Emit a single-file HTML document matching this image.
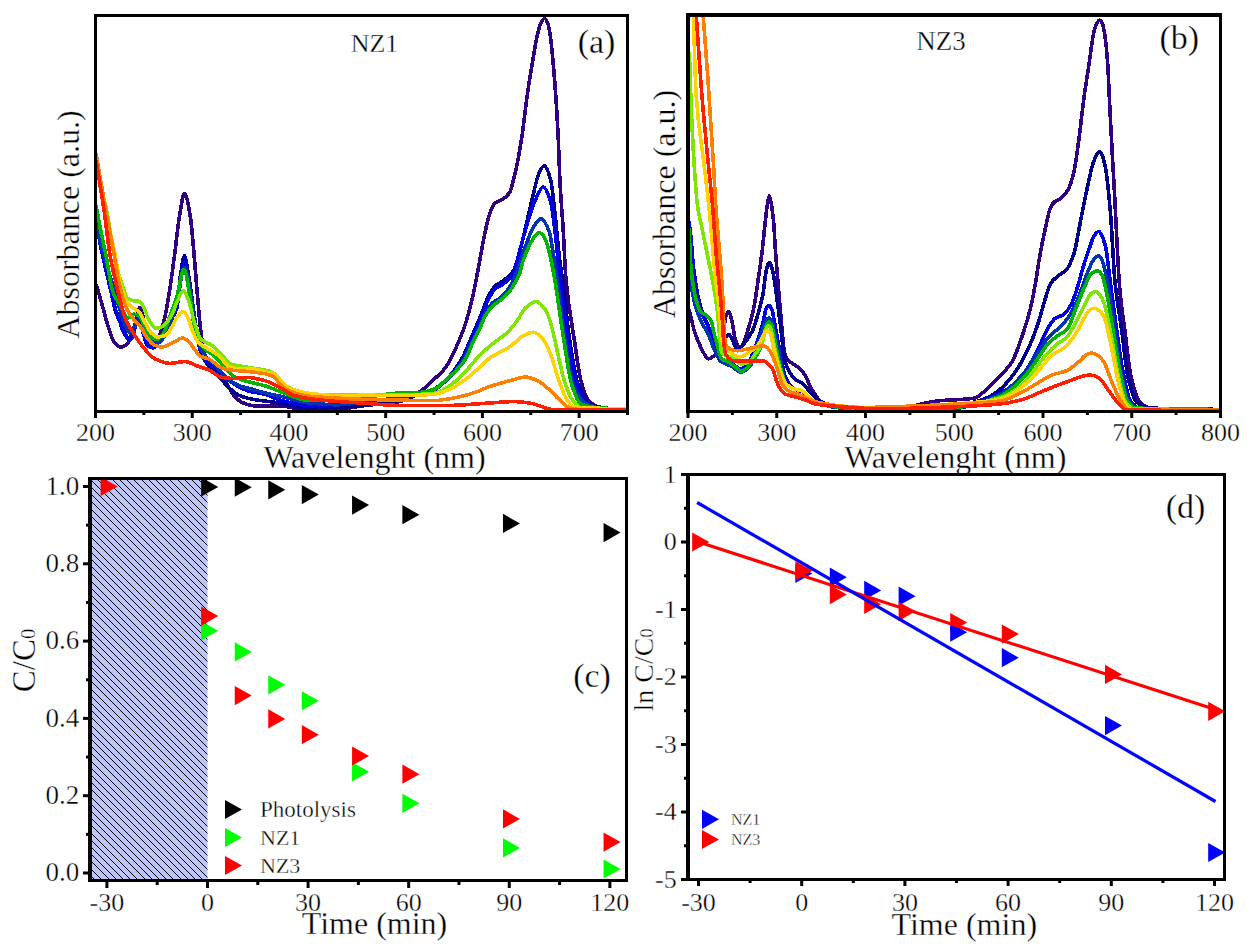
<!DOCTYPE html>
<html><head><meta charset="utf-8"><style>html,body{margin:0;padding:0;background:#fff;width:1247px;height:952px;overflow:hidden}svg{display:block}</style></head>
<body><svg width="1247" height="952" viewBox="0 0 1247 952" font-family="&quot;Liberation Serif&quot;, serif" fill="#000"><style>text{stroke:#fff;stroke-width:0.35px}</style><defs><pattern id="hatch" patternUnits="userSpaceOnUse" x="0" y="0" width="36" height="36"><rect width="36" height="36" fill="#bbc5fa"/><g fill="#000"><rect x="0" y="0" width="1" height="1"/><rect x="1" y="1" width="1" height="1"/><rect x="2" y="2" width="1" height="1"/><rect x="3" y="3" width="1" height="1"/><rect x="4" y="4" width="1" height="1"/><rect x="5" y="5" width="1" height="1"/><rect x="6" y="6" width="1" height="1"/><rect x="7" y="7" width="1" height="1"/><rect x="8" y="8" width="1" height="1"/><rect x="9" y="9" width="1" height="1"/><rect x="10" y="10" width="1" height="1"/><rect x="11" y="11" width="1" height="1"/><rect x="12" y="12" width="1" height="1"/><rect x="13" y="13" width="1" height="1"/><rect x="14" y="14" width="1" height="1"/><rect x="15" y="15" width="1" height="1"/><rect x="16" y="16" width="1" height="1"/><rect x="17" y="17" width="1" height="1"/><rect x="18" y="18" width="1" height="1"/><rect x="19" y="19" width="1" height="1"/><rect x="20" y="20" width="1" height="1"/><rect x="21" y="21" width="1" height="1"/><rect x="22" y="22" width="1" height="1"/><rect x="23" y="23" width="1" height="1"/><rect x="24" y="24" width="1" height="1"/><rect x="25" y="25" width="1" height="1"/><rect x="26" y="26" width="1" height="1"/><rect x="27" y="27" width="1" height="1"/><rect x="28" y="28" width="1" height="1"/><rect x="29" y="29" width="1" height="1"/><rect x="30" y="30" width="1" height="1"/><rect x="31" y="31" width="1" height="1"/><rect x="32" y="32" width="1" height="1"/><rect x="33" y="33" width="1" height="1"/><rect x="34" y="34" width="1" height="1"/><rect x="35" y="35" width="1" height="1"/><rect x="0" y="7" width="1" height="1"/><rect x="1" y="8" width="1" height="1"/><rect x="2" y="9" width="1" height="1"/><rect x="3" y="10" width="1" height="1"/><rect x="4" y="11" width="1" height="1"/><rect x="5" y="12" width="1" height="1"/><rect x="6" y="13" width="1" height="1"/><rect x="7" y="14" width="1" height="1"/><rect x="8" y="15" width="1" height="1"/><rect x="9" y="16" width="1" height="1"/><rect x="10" y="17" width="1" height="1"/><rect x="11" y="18" width="1" height="1"/><rect x="12" y="19" width="1" height="1"/><rect x="13" y="20" width="1" height="1"/><rect x="14" y="21" width="1" height="1"/><rect x="15" y="22" width="1" height="1"/><rect x="16" y="23" width="1" height="1"/><rect x="17" y="24" width="1" height="1"/><rect x="18" y="25" width="1" height="1"/><rect x="19" y="26" width="1" height="1"/><rect x="20" y="27" width="1" height="1"/><rect x="21" y="28" width="1" height="1"/><rect x="22" y="29" width="1" height="1"/><rect x="23" y="30" width="1" height="1"/><rect x="24" y="31" width="1" height="1"/><rect x="25" y="32" width="1" height="1"/><rect x="26" y="33" width="1" height="1"/><rect x="27" y="34" width="1" height="1"/><rect x="28" y="35" width="1" height="1"/><rect x="29" y="0" width="1" height="1"/><rect x="30" y="1" width="1" height="1"/><rect x="31" y="2" width="1" height="1"/><rect x="32" y="3" width="1" height="1"/><rect x="33" y="4" width="1" height="1"/><rect x="34" y="5" width="1" height="1"/><rect x="35" y="6" width="1" height="1"/><rect x="0" y="14" width="1" height="1"/><rect x="1" y="15" width="1" height="1"/><rect x="2" y="16" width="1" height="1"/><rect x="3" y="17" width="1" height="1"/><rect x="4" y="18" width="1" height="1"/><rect x="5" y="19" width="1" height="1"/><rect x="6" y="20" width="1" height="1"/><rect x="7" y="21" width="1" height="1"/><rect x="8" y="22" width="1" height="1"/><rect x="9" y="23" width="1" height="1"/><rect x="10" y="24" width="1" height="1"/><rect x="11" y="25" width="1" height="1"/><rect x="12" y="26" width="1" height="1"/><rect x="13" y="27" width="1" height="1"/><rect x="14" y="28" width="1" height="1"/><rect x="15" y="29" width="1" height="1"/><rect x="16" y="30" width="1" height="1"/><rect x="17" y="31" width="1" height="1"/><rect x="18" y="32" width="1" height="1"/><rect x="19" y="33" width="1" height="1"/><rect x="20" y="34" width="1" height="1"/><rect x="21" y="35" width="1" height="1"/><rect x="22" y="0" width="1" height="1"/><rect x="23" y="1" width="1" height="1"/><rect x="24" y="2" width="1" height="1"/><rect x="25" y="3" width="1" height="1"/><rect x="26" y="4" width="1" height="1"/><rect x="27" y="5" width="1" height="1"/><rect x="28" y="6" width="1" height="1"/><rect x="29" y="7" width="1" height="1"/><rect x="30" y="8" width="1" height="1"/><rect x="31" y="9" width="1" height="1"/><rect x="32" y="10" width="1" height="1"/><rect x="33" y="11" width="1" height="1"/><rect x="34" y="12" width="1" height="1"/><rect x="35" y="13" width="1" height="1"/><rect x="0" y="22" width="1" height="1"/><rect x="1" y="23" width="1" height="1"/><rect x="2" y="24" width="1" height="1"/><rect x="3" y="25" width="1" height="1"/><rect x="4" y="26" width="1" height="1"/><rect x="5" y="27" width="1" height="1"/><rect x="6" y="28" width="1" height="1"/><rect x="7" y="29" width="1" height="1"/><rect x="8" y="30" width="1" height="1"/><rect x="9" y="31" width="1" height="1"/><rect x="10" y="32" width="1" height="1"/><rect x="11" y="33" width="1" height="1"/><rect x="12" y="34" width="1" height="1"/><rect x="13" y="35" width="1" height="1"/><rect x="14" y="0" width="1" height="1"/><rect x="15" y="1" width="1" height="1"/><rect x="16" y="2" width="1" height="1"/><rect x="17" y="3" width="1" height="1"/><rect x="18" y="4" width="1" height="1"/><rect x="19" y="5" width="1" height="1"/><rect x="20" y="6" width="1" height="1"/><rect x="21" y="7" width="1" height="1"/><rect x="22" y="8" width="1" height="1"/><rect x="23" y="9" width="1" height="1"/><rect x="24" y="10" width="1" height="1"/><rect x="25" y="11" width="1" height="1"/><rect x="26" y="12" width="1" height="1"/><rect x="27" y="13" width="1" height="1"/><rect x="28" y="14" width="1" height="1"/><rect x="29" y="15" width="1" height="1"/><rect x="30" y="16" width="1" height="1"/><rect x="31" y="17" width="1" height="1"/><rect x="32" y="18" width="1" height="1"/><rect x="33" y="19" width="1" height="1"/><rect x="34" y="20" width="1" height="1"/><rect x="35" y="21" width="1" height="1"/><rect x="0" y="29" width="1" height="1"/><rect x="1" y="30" width="1" height="1"/><rect x="2" y="31" width="1" height="1"/><rect x="3" y="32" width="1" height="1"/><rect x="4" y="33" width="1" height="1"/><rect x="5" y="34" width="1" height="1"/><rect x="6" y="35" width="1" height="1"/><rect x="7" y="0" width="1" height="1"/><rect x="8" y="1" width="1" height="1"/><rect x="9" y="2" width="1" height="1"/><rect x="10" y="3" width="1" height="1"/><rect x="11" y="4" width="1" height="1"/><rect x="12" y="5" width="1" height="1"/><rect x="13" y="6" width="1" height="1"/><rect x="14" y="7" width="1" height="1"/><rect x="15" y="8" width="1" height="1"/><rect x="16" y="9" width="1" height="1"/><rect x="17" y="10" width="1" height="1"/><rect x="18" y="11" width="1" height="1"/><rect x="19" y="12" width="1" height="1"/><rect x="20" y="13" width="1" height="1"/><rect x="21" y="14" width="1" height="1"/><rect x="22" y="15" width="1" height="1"/><rect x="23" y="16" width="1" height="1"/><rect x="24" y="17" width="1" height="1"/><rect x="25" y="18" width="1" height="1"/><rect x="26" y="19" width="1" height="1"/><rect x="27" y="20" width="1" height="1"/><rect x="28" y="21" width="1" height="1"/><rect x="29" y="22" width="1" height="1"/><rect x="30" y="23" width="1" height="1"/><rect x="31" y="24" width="1" height="1"/><rect x="32" y="25" width="1" height="1"/><rect x="33" y="26" width="1" height="1"/><rect x="34" y="27" width="1" height="1"/><rect x="35" y="28" width="1" height="1"/></g></pattern><clipPath id="clipA"><rect x="97" y="17" width="529" height="393"/></clipPath><clipPath id="clipB"><rect x="690" y="16" width="529" height="394"/></clipPath><clipPath id="clipC"><rect x="92" y="480" width="533" height="399"/></clipPath><clipPath id="clipD"><rect x="690" y="476" width="533" height="402"/></clipPath></defs><g clip-path="url(#clipA)"><path d="M96.00,284.00C97.87,290.30 99.73,296.40 101.60,302.90C103.70,310.21 105.80,319.25 107.90,325.60C110.00,331.95 112.10,339.42 114.20,342.00C116.37,344.66 118.53,347.20 120.70,347.20C123.03,347.20 125.37,345.47 127.70,343.30C129.47,341.66 131.23,335.49 133.00,330.60C134.40,326.72 135.80,322.14 137.20,317.00C137.97,314.18 138.73,307.50 139.50,307.50C140.33,307.50 141.17,309.76 142.00,312.00C143.17,315.14 144.33,328.77 145.50,333.00C147.23,339.29 148.97,346.00 150.70,346.00C152.83,346.00 154.97,343.43 157.10,340.70C159.50,337.63 161.90,328.64 164.30,319.30C166.07,312.43 167.83,301.64 169.60,290.70C171.40,279.55 173.20,265.08 175.00,251.40C176.50,240.00 178.00,224.31 179.50,215.70C181.17,206.14 182.83,193.40 184.50,193.40C186.40,193.40 188.30,204.68 190.20,215.70C191.40,222.66 192.60,238.31 193.80,251.40C194.87,263.03 195.93,277.79 197.00,290.00C198.23,304.12 199.47,319.74 200.70,330.20C201.63,338.12 202.57,344.96 203.50,350.00C204.33,354.50 205.17,359.31 206.00,361.00C207.87,364.79 209.73,365.95 211.60,367.70C214.83,370.73 218.07,371.51 221.30,374.90C223.70,377.42 226.10,383.20 228.50,387.00C230.93,390.85 233.37,395.72 235.80,397.90C239.00,400.77 242.20,402.92 245.40,403.90C249.43,405.14 253.47,406.30 257.50,406.30C265.00,406.30 272.50,406.00 280.00,406.00C289.63,406.00 299.27,410.30 308.90,410.30C318.50,410.30 328.10,409.77 337.70,409.20C347.33,408.63 356.97,406.41 366.60,405.30C376.23,404.19 385.87,403.94 395.50,402.40C400.33,401.63 405.17,400.03 410.00,398.00C414.50,396.11 419.00,392.43 423.50,388.90C426.67,386.42 429.83,383.22 433.00,380.20C437.20,376.19 441.40,373.19 445.60,367.60C447.73,364.76 449.87,360.24 452.00,356.00C454.97,350.11 457.93,343.60 460.90,336.20C462.50,332.21 464.10,327.94 465.70,322.90C467.90,315.97 470.10,307.79 472.30,298.40C474.20,290.29 476.10,279.82 478.00,270.00C480.13,258.98 482.27,245.78 484.40,235.60C485.87,228.60 487.33,220.92 488.80,216.50C490.77,210.57 492.73,204.81 494.70,203.20C497.17,201.18 499.63,201.17 502.10,199.60C504.53,198.05 506.97,196.51 509.40,192.90C511.37,189.98 513.33,180.70 515.30,172.40C517.53,162.98 519.77,150.40 522.00,136.00C523.77,124.61 525.53,106.96 527.30,94.70C528.90,83.60 530.50,74.14 532.10,64.60C533.70,55.06 535.30,44.40 536.90,37.30C538.10,31.98 539.30,26.46 540.50,24.00C541.80,21.33 543.10,18.50 544.40,18.50C545.60,18.50 546.80,21.05 548.00,24.00C548.83,26.05 549.67,31.59 550.50,37.30C551.63,45.07 552.77,58.52 553.90,71.50C554.60,79.52 555.30,88.46 556.00,98.80C556.67,108.65 557.33,119.54 558.00,132.90C558.70,146.93 559.40,171.07 560.10,184.10C561.10,202.71 562.10,212.11 563.10,228.20C564.07,243.76 565.03,269.06 566.00,279.70C568.83,310.89 571.67,322.00 574.50,340.90C576.60,354.91 578.70,372.48 580.80,380.30C583.43,390.11 586.07,398.24 588.70,400.80C592.37,404.37 596.03,406.39 599.70,407.10C604.43,408.02 609.17,408.55 613.90,408.70C619.27,408.87 624.63,408.90 630.00,409.00" fill="none" stroke="#300080" stroke-width="3.6" stroke-linejoin="round" shape-rendering="crispEdges"/><path d="M96.00,217.00C97.67,226.33 99.33,236.70 101.00,245.00C102.87,254.29 104.73,261.86 106.60,270.00C108.40,277.85 110.20,284.92 112.00,293.00C113.13,298.09 114.27,305.21 115.40,309.00C116.90,314.01 118.40,316.42 119.90,320.40C120.93,323.14 121.97,326.60 123.00,329.00C124.07,331.48 125.13,333.73 126.20,335.40C127.23,337.02 128.27,339.40 129.30,339.40C130.37,339.40 131.43,337.70 132.50,336.00C134.07,333.50 135.63,318.50 137.20,318.50C138.47,318.50 139.73,321.54 141.00,324.00C143.13,328.14 145.27,343.19 147.40,344.80C149.23,346.18 151.07,347.20 152.90,347.20C155.00,347.20 157.10,343.09 159.20,340.10C161.83,336.35 164.47,329.65 167.10,324.40C170.33,317.95 173.57,316.40 176.80,305.00C178.03,300.65 179.27,282.44 180.50,275.00C181.83,266.96 183.17,255.90 184.50,255.90C185.83,255.90 187.17,267.53 188.50,275.00C189.97,283.21 191.43,294.97 192.90,305.00C194.60,316.63 196.30,332.08 198.00,340.00C199.70,347.92 201.40,354.79 203.10,358.00C207.07,365.50 211.03,367.49 215.00,372.00C220.30,378.02 225.60,384.90 230.90,389.40C233.73,391.81 236.57,394.28 239.40,395.50C243.43,397.24 247.47,398.30 251.50,399.10C261.00,400.97 270.50,401.52 280.00,403.00C289.63,404.50 299.27,408.20 308.90,408.20C318.50,408.20 328.10,407.64 337.70,407.20C347.33,406.76 356.97,406.18 366.60,405.30C376.23,404.42 385.87,402.90 395.50,401.00C402.67,399.59 409.83,397.18 417.00,395.00C422.33,393.38 427.67,392.19 433.00,389.70C437.20,387.74 441.40,384.20 445.60,380.20C451.33,374.73 457.07,367.07 462.80,357.00C465.03,353.08 467.27,346.89 469.50,341.80C471.70,336.79 473.90,331.89 476.10,326.70C478.30,321.51 480.50,316.01 482.70,310.60C484.60,305.93 486.50,300.18 488.40,296.50C490.60,292.24 492.80,288.12 495.00,286.10C497.50,283.80 500.00,283.13 502.50,281.30C504.70,279.69 506.90,277.90 509.10,275.70C510.70,274.10 512.30,272.71 513.90,270.00C516.33,265.88 518.77,254.97 521.20,245.90C523.17,238.57 525.13,229.30 527.10,220.90C529.03,212.64 530.97,203.65 532.90,195.90C534.87,188.02 536.83,177.94 538.80,173.80C540.63,169.94 542.47,165.70 544.30,165.70C546.40,165.70 548.50,172.22 550.60,179.70C552.07,184.93 553.53,200.74 555.00,213.50C556.47,226.26 557.93,245.75 559.40,257.60C560.23,264.33 561.07,268.77 561.90,275.00C564.53,294.68 567.17,323.68 569.80,340.90C572.43,358.12 575.07,375.59 577.70,383.40C580.83,392.69 583.97,399.95 587.10,402.30C591.30,405.46 595.50,407.58 599.70,407.90C609.80,408.67 619.90,408.63 630.00,409.00" fill="none" stroke="#00008c" stroke-width="3.6" stroke-linejoin="round" shape-rendering="crispEdges"/><path d="M96.00,220.00C97.67,229.33 99.33,239.70 101.00,248.00C102.87,257.29 104.73,264.86 106.60,273.00C108.40,280.85 110.20,288.19 112.00,296.00C113.13,300.92 114.27,307.39 115.40,311.00C116.90,315.78 118.40,318.00 119.90,322.00C120.93,324.76 121.97,328.77 123.00,331.00C124.07,333.31 125.13,335.05 126.20,336.50C127.23,337.91 128.27,340.00 129.30,340.00C130.37,340.00 131.43,338.53 132.50,337.00C134.07,334.75 135.63,320.00 137.20,320.00C138.47,320.00 139.73,323.43 141.00,326.00C143.13,330.32 145.27,343.84 147.40,345.50C149.23,346.92 151.07,348.00 152.90,348.00C155.00,348.00 157.10,343.92 159.20,341.00C161.83,337.34 164.47,330.94 167.10,326.00C170.33,319.93 173.57,318.40 176.80,308.00C178.03,304.03 179.27,289.20 180.50,282.00C181.83,274.22 183.17,262.10 184.50,262.10C185.83,262.10 187.17,274.57 188.50,282.00C189.97,290.17 191.43,300.73 192.90,310.00C194.60,320.74 196.30,334.89 198.00,342.00C199.70,349.11 201.40,355.56 203.10,358.00C207.07,363.70 211.03,364.59 215.00,368.00C220.30,372.55 225.60,378.53 230.90,382.00C236.57,385.71 242.23,389.14 247.90,390.80C253.60,392.47 259.30,392.77 265.00,394.30C270.00,395.64 275.00,398.64 280.00,400.00C289.63,402.62 299.27,405.80 308.90,405.80C318.50,405.80 328.10,405.31 337.70,404.80C347.33,404.29 356.97,402.62 366.60,401.50C376.23,400.38 385.87,399.52 395.50,398.10C402.67,397.04 409.83,395.47 417.00,394.00C422.33,392.91 427.67,392.35 433.00,390.50C437.20,389.04 441.40,384.93 445.60,381.00C451.33,375.63 457.07,368.78 462.80,359.00C465.03,355.19 467.27,348.89 469.50,343.80C471.70,338.79 473.90,333.83 476.10,328.70C478.30,323.57 480.50,318.22 482.70,313.00C484.60,308.49 486.50,303.13 488.40,299.50C490.60,295.29 492.80,290.94 495.00,289.00C497.50,286.80 500.00,286.26 502.50,284.50C504.67,282.97 506.83,281.42 509.00,279.00C510.50,277.33 512.00,275.10 513.50,272.00C516.53,265.73 519.57,250.63 522.60,240.00C524.57,233.11 526.53,225.52 528.50,219.40C530.97,211.73 533.43,203.84 535.90,198.80C538.33,193.83 540.77,187.00 543.20,187.00C545.67,187.00 548.13,193.84 550.60,201.80C552.07,206.53 553.53,219.76 555.00,231.20C556.47,242.64 557.93,259.96 559.40,272.40C562.60,299.53 565.80,325.85 569.00,345.00C571.67,360.95 574.33,377.82 577.00,385.00C580.33,393.98 583.67,400.83 587.00,403.00C591.33,405.83 595.67,407.70 600.00,408.00C610.00,408.69 620.00,408.67 630.00,409.00" fill="none" stroke="#0000e6" stroke-width="3.6" stroke-linejoin="round" shape-rendering="crispEdges"/><path d="M96.00,224.00C98.27,233.33 100.53,243.51 102.80,252.00C104.53,258.49 106.27,264.31 108.00,270.00C109.63,275.36 111.27,279.84 112.90,285.30C114.27,289.87 115.63,295.30 117.00,300.00C118.57,305.39 120.13,310.88 121.70,315.50C123.13,319.73 124.57,324.29 126.00,327.00C127.37,329.58 128.73,333.00 130.10,333.00C131.67,333.00 133.23,328.54 134.80,326.00C136.13,323.84 137.47,318.90 138.80,318.90C140.23,318.90 141.67,325.39 143.10,328.10C145.33,332.33 147.57,337.00 149.80,339.30C151.90,341.46 154.00,344.00 156.10,344.00C158.20,344.00 160.30,341.51 162.40,339.30C165.03,336.53 167.67,331.00 170.30,324.40C172.53,318.80 174.77,308.82 177.00,300.00C179.50,290.12 182.00,267.50 184.50,267.50C187.00,267.50 189.50,287.32 192.00,300.00C194.50,312.68 197.00,339.52 199.50,345.90C202.00,352.28 204.50,355.12 207.00,358.00C209.73,361.15 212.47,362.64 215.20,365.30C219.23,369.23 223.27,375.37 227.30,378.50C231.33,381.63 235.37,384.28 239.40,385.80C243.83,387.47 248.27,388.15 252.70,389.40C256.80,390.55 260.90,391.98 265.00,393.00C270.00,394.24 275.00,395.09 280.00,396.20C289.63,398.33 299.27,401.91 308.90,402.90C318.50,403.89 328.10,404.80 337.70,404.80C347.33,404.80 356.97,402.62 366.60,401.50C376.23,400.38 385.87,399.52 395.50,398.10C402.67,397.04 409.83,395.56 417.00,394.00C422.33,392.84 427.67,392.01 433.00,390.00C437.20,388.41 441.40,384.73 445.60,381.00C452.07,375.25 458.53,367.59 465.00,357.00C467.33,353.18 469.67,346.77 472.00,342.00C474.30,337.30 476.60,333.41 478.90,328.50C481.10,323.80 483.30,316.88 485.50,313.00C488.00,308.59 490.50,304.61 493.00,302.50C495.23,300.61 497.47,300.13 499.70,298.40C502.83,295.97 505.97,292.62 509.10,288.00C511.47,284.51 513.83,278.73 516.20,273.00C519.33,265.41 522.47,254.12 525.60,245.90C528.03,239.51 530.47,232.07 532.90,228.20C535.60,223.91 538.30,218.70 541.00,218.70C543.70,218.70 546.40,224.36 549.10,231.20C550.57,234.91 552.03,245.97 553.50,254.70C555.00,263.63 556.50,274.18 558.00,285.00C560.33,301.83 562.67,325.15 565.00,340.00C567.83,358.04 570.67,377.96 573.50,385.00C577.33,394.52 581.17,400.83 585.00,403.00C590.00,405.83 595.00,407.67 600.00,408.00C610.00,408.67 620.00,408.67 630.00,409.00" fill="none" stroke="#0035b0" stroke-width="3.6" stroke-linejoin="round" shape-rendering="crispEdges"/><path d="M96.00,205.00C97.67,214.00 99.33,223.58 101.00,232.00C102.87,241.43 104.73,248.90 106.60,258.50C108.40,267.76 110.20,282.66 112.00,288.90C113.17,292.94 114.33,295.74 115.50,298.00C116.97,300.85 118.43,302.14 119.90,304.70C121.10,306.80 122.30,309.96 123.50,312.00C124.90,314.38 126.30,318.10 127.70,318.10C128.80,318.10 129.90,316.70 131.00,316.00C132.00,315.37 133.00,314.10 134.00,314.10C135.87,314.10 137.73,315.20 139.60,316.50C141.70,317.96 143.80,325.60 145.90,329.10C147.73,332.15 149.57,335.81 151.40,337.00C153.23,338.19 155.07,339.30 156.90,339.30C159.00,339.30 161.10,336.53 163.20,333.80C165.57,330.72 167.93,321.31 170.30,314.90C172.47,309.03 174.63,303.98 176.80,297.00C179.17,289.38 181.53,269.30 183.90,269.30C185.93,269.30 187.97,285.83 190.00,297.00C191.57,305.61 193.13,323.61 194.70,329.00C197.50,338.64 200.30,343.74 203.10,347.10C207.13,351.95 211.17,353.00 215.20,356.80C218.43,359.84 221.67,364.28 224.90,367.70C227.70,370.66 230.50,374.44 233.30,376.10C237.33,378.49 241.37,379.74 245.40,381.00C251.93,383.03 258.47,383.85 265.00,385.80C270.00,387.29 275.00,389.68 280.00,391.40C289.63,394.72 299.27,400.50 308.90,400.50C318.50,400.50 328.10,400.38 337.70,400.20C347.33,400.02 356.97,398.42 366.60,397.30C376.23,396.18 385.87,393.67 395.50,393.30C402.73,393.02 409.97,393.11 417.20,392.80C422.47,392.57 427.73,391.38 433.00,389.70C437.20,388.36 441.40,383.86 445.60,380.20C452.30,374.36 459.00,369.17 465.70,358.80C467.90,355.39 470.10,348.40 472.30,343.70C474.50,339.00 476.70,335.20 478.90,330.50C481.10,325.80 483.30,318.98 485.50,315.40C488.03,311.28 490.57,308.39 493.10,305.90C496.23,302.82 499.37,301.19 502.50,298.40C505.03,296.14 507.57,294.02 510.10,290.80C512.30,288.01 514.50,283.63 516.70,279.50C517.80,277.44 518.90,275.83 520.00,272.80C520.87,270.41 521.73,264.84 522.60,262.10C525.07,254.31 527.53,249.21 530.00,244.40C531.67,241.15 533.33,237.70 535.00,236.00C536.53,234.43 538.07,232.60 539.60,232.60C540.90,232.60 542.20,234.34 543.50,236.00C544.87,237.74 546.23,241.68 547.60,245.90C549.57,251.97 551.53,262.10 553.50,272.40C556.83,289.86 560.17,317.30 563.50,337.70C566.13,353.82 568.77,374.95 571.40,383.40C574.53,393.46 577.67,402.55 580.80,403.90C587.20,406.65 593.60,407.61 600.00,408.00C610.00,408.61 620.00,408.67 630.00,409.00" fill="none" stroke="#00b400" stroke-width="3.6" stroke-linejoin="round" shape-rendering="crispEdges"/><path d="M96.00,170.00C99.53,183.53 103.07,194.11 106.60,210.60C109.33,223.36 112.07,246.41 114.80,258.50C117.27,269.41 119.73,277.91 122.20,285.00C124.03,290.27 125.87,297.11 127.70,298.40C129.57,299.71 131.43,300.33 133.30,300.70C135.40,301.11 137.50,300.98 139.60,301.50C140.90,301.82 142.20,304.71 143.50,307.00C145.33,310.23 147.17,317.55 149.00,320.40C151.37,324.07 153.73,328.30 156.10,328.30C158.47,328.30 160.83,327.14 163.20,325.90C166.00,324.43 168.80,320.08 171.60,315.30C173.40,312.22 175.20,305.72 177.00,302.00C179.13,297.59 181.27,290.70 183.40,290.70C185.27,290.70 187.13,297.11 189.00,302.00C190.87,306.89 192.73,317.18 194.60,322.90C196.63,329.13 198.67,336.59 200.70,338.70C204.73,342.89 208.77,342.85 212.80,345.90C215.63,348.05 218.47,351.57 221.30,354.40C224.50,357.60 227.70,362.88 230.90,364.00C234.93,365.42 238.97,365.74 243.00,366.50C245.67,367.00 248.33,367.46 251.00,367.90C255.67,368.68 260.33,369.06 265.00,370.10C267.93,370.76 270.87,371.59 273.80,373.20C275.87,374.34 277.93,378.00 280.00,380.00C283.00,382.91 286.00,386.35 289.00,387.70C296.63,391.13 304.27,393.47 311.90,394.00C320.50,394.59 329.10,394.89 337.70,395.00C351.80,395.18 365.90,395.30 380.00,395.30C397.67,395.30 415.33,394.86 433.00,393.60C438.23,393.23 443.47,389.64 448.70,386.50C453.97,383.34 459.23,377.63 464.50,372.40C469.67,367.27 474.83,360.20 480.00,355.10C484.73,350.43 489.47,346.35 494.20,342.50C498.40,339.08 502.60,336.89 506.80,333.00C509.93,330.10 513.07,326.11 516.20,322.00C519.37,317.84 522.53,310.58 525.70,307.80C529.10,304.81 532.50,301.50 535.90,301.50C539.33,301.50 542.77,305.94 546.20,311.00C548.30,314.09 550.40,322.35 552.50,329.90C554.60,337.45 556.70,349.31 558.80,358.20C560.90,367.09 563.00,377.37 565.10,383.40C567.73,390.96 570.37,397.55 573.00,400.80C576.13,404.66 579.27,408.65 582.40,408.70C598.27,408.95 614.13,408.90 630.00,409.00" fill="none" stroke="#80e600" stroke-width="3.6" stroke-linejoin="round" shape-rendering="crispEdges"/><path d="M96.00,168.00C99.00,182.00 102.00,196.49 105.00,210.00C108.07,223.81 111.13,235.16 114.20,250.00C116.37,260.49 118.53,277.40 120.70,285.00C123.03,293.19 125.37,300.08 127.70,303.10C129.80,305.82 131.90,306.95 134.00,308.60C135.87,310.06 137.73,310.67 139.60,312.60C141.43,314.49 143.27,319.63 145.10,322.80C147.20,326.44 149.30,331.08 151.40,333.00C153.50,334.92 155.60,337.00 157.70,337.00C160.30,337.00 162.90,336.35 165.50,335.40C167.53,334.66 169.57,330.67 171.60,327.50C173.40,324.69 175.20,319.22 177.00,317.00C179.13,314.37 181.27,311.30 183.40,311.30C184.93,311.30 186.47,315.07 188.00,318.00C189.63,321.13 191.27,328.03 192.90,331.80C194.70,335.95 196.50,340.42 198.30,342.30C201.93,346.09 205.57,347.07 209.20,349.50C212.80,351.91 216.40,353.71 220.00,356.80C222.83,359.23 225.67,365.42 228.50,366.50C232.13,367.88 235.77,368.90 239.40,368.90C243.27,368.90 247.13,368.70 251.00,368.70C255.67,368.70 260.33,370.81 265.00,371.90C267.93,372.59 270.87,372.94 273.80,374.00C278.87,375.84 283.93,386.50 289.00,388.50C295.63,391.12 302.27,392.45 308.90,393.30C318.50,394.53 328.10,395.70 337.70,395.70C347.33,395.70 356.97,395.20 366.60,395.20C376.23,395.20 385.87,395.70 395.50,395.70C408.00,395.70 420.50,395.27 433.00,394.40C438.23,394.04 443.47,391.79 448.70,389.70C453.97,387.60 459.23,383.93 464.50,380.20C469.67,376.54 474.83,371.49 480.00,366.90C483.17,364.09 486.33,360.44 489.50,358.20C493.17,355.60 496.83,354.00 500.50,351.90C504.17,349.80 507.83,348.11 511.50,345.60C515.17,343.09 518.83,338.06 522.50,336.20C526.20,334.32 529.90,332.20 533.60,332.20C536.73,332.20 539.87,335.82 543.00,339.30C545.63,342.23 548.27,348.63 550.90,355.10C553.53,361.57 556.17,373.10 558.80,380.30C561.43,387.50 564.07,395.46 566.70,399.20C569.30,402.90 571.90,406.87 574.50,407.10C593.00,408.70 611.50,408.37 630.00,409.00" fill="none" stroke="#ffd200" stroke-width="3.6" stroke-linejoin="round" shape-rendering="crispEdges"/><path d="M96.00,153.00C98.67,168.67 101.33,184.99 104.00,200.00C106.97,216.70 109.93,231.61 112.90,248.00C114.97,259.42 117.03,273.75 119.10,283.00C120.67,290.01 122.23,295.86 123.80,300.70C125.10,304.71 126.40,308.60 127.70,311.00C129.80,314.88 131.90,317.01 134.00,319.60C136.10,322.19 138.20,323.90 140.30,326.70C142.40,329.50 144.50,334.23 146.60,337.00C148.97,340.12 151.33,343.66 153.70,344.80C156.33,346.07 158.97,347.20 161.60,347.20C164.50,347.20 167.40,345.27 170.30,344.00C172.20,343.17 174.10,341.97 176.00,341.00C178.03,339.97 180.07,338.00 182.10,338.00C184.07,338.00 186.03,339.58 188.00,341.00C190.20,342.59 192.40,346.77 194.60,349.50C196.40,351.74 198.20,354.98 200.00,356.00C203.07,357.74 206.13,357.79 209.20,359.20C213.23,361.05 217.27,366.24 221.30,367.70C224.50,368.86 227.70,369.69 230.90,370.10C235.73,370.72 240.57,370.83 245.40,371.30C251.93,371.94 258.47,372.41 265.00,373.70C267.93,374.28 270.87,375.30 273.80,377.00C275.87,378.20 277.93,382.11 280.00,384.00C283.00,386.75 286.00,389.53 289.00,390.80C295.63,393.62 302.27,395.47 308.90,396.20C318.50,397.26 328.10,397.56 337.70,398.10C347.33,398.64 356.97,399.25 366.60,399.50C376.23,399.75 385.87,399.83 395.50,400.00C408.00,400.22 420.50,400.70 433.00,400.70C439.30,400.70 445.60,399.35 451.90,398.30C459.23,397.08 466.57,395.08 473.90,392.80C479.17,391.16 484.43,388.26 489.70,386.50C496.97,384.07 504.23,382.11 511.50,380.30C516.23,379.12 520.97,377.10 525.70,377.10C529.37,377.10 533.03,378.78 536.70,380.30C540.37,381.82 544.03,385.15 547.70,388.20C551.40,391.28 555.10,395.84 558.80,399.20C561.93,402.04 565.07,405.92 568.20,407.10C571.37,408.29 574.53,409.38 577.70,409.40C595.13,409.49 612.57,409.47 630.00,409.50" fill="none" stroke="#ff8000" stroke-width="3.6" stroke-linejoin="round" shape-rendering="crispEdges"/><path d="M96.00,160.00C98.67,176.67 101.33,191.74 104.00,210.00C106.00,223.70 108.00,243.49 110.00,255.00C112.00,266.51 114.00,274.29 116.00,283.00C117.83,290.99 119.67,298.69 121.50,305.50C122.80,310.33 124.10,315.74 125.40,318.90C127.43,323.85 129.47,326.59 131.50,330.00C133.67,333.63 135.83,337.02 138.00,340.10C140.63,343.84 143.27,347.55 145.90,350.40C149.03,353.79 152.17,357.51 155.30,359.00C160.07,361.27 164.83,363.40 169.60,363.40C174.73,363.40 179.87,361.60 185.00,361.60C189.03,361.60 193.07,364.48 197.10,365.90C201.13,367.32 205.17,368.33 209.20,370.10C213.23,371.87 217.27,376.61 221.30,377.30C225.30,377.98 229.30,378.50 233.30,378.50C237.33,378.50 241.37,377.30 245.40,377.30C251.30,377.30 257.20,378.72 263.10,380.10C268.73,381.41 274.37,384.69 280.00,387.50C284.53,389.76 289.07,393.87 293.60,395.30C298.70,396.91 303.80,397.87 308.90,398.60C318.50,399.97 328.10,400.74 337.70,401.50C347.33,402.27 356.97,402.77 366.60,403.40C376.23,404.03 385.87,405.26 395.50,405.30C413.23,405.37 430.97,405.40 448.70,405.40C462.37,405.40 476.03,403.81 489.70,403.00C497.50,402.54 505.30,401.60 513.10,401.60C518.87,401.60 524.63,402.29 530.40,403.10C534.60,403.69 538.80,405.83 543.00,407.10C545.63,407.90 548.27,409.22 550.90,409.40C558.77,409.95 566.63,410.20 574.50,410.20C593.00,410.20 611.50,409.67 630.00,409.40" fill="none" stroke="#ff2000" stroke-width="3.6" stroke-linejoin="round" shape-rendering="crispEdges"/></g><rect x="94" y="14" width="3" height="399"/><rect x="626" y="14" width="3" height="399"/><rect x="94" y="14" width="535" height="3"/><rect x="94" y="410" width="535" height="3"/><rect x="94.00" y="410.00" width="3" height="8.00" fill="#000"/><rect x="142.36" y="410.00" width="3" height="5.00" fill="#000"/><rect x="190.73" y="410.00" width="3" height="8.00" fill="#000"/><rect x="239.09" y="410.00" width="3" height="5.00" fill="#000"/><rect x="287.45" y="410.00" width="3" height="8.00" fill="#000"/><rect x="335.82" y="410.00" width="3" height="5.00" fill="#000"/><rect x="384.18" y="410.00" width="3" height="8.00" fill="#000"/><rect x="432.55" y="410.00" width="3" height="5.00" fill="#000"/><rect x="480.91" y="410.00" width="3" height="8.00" fill="#000"/><rect x="529.27" y="410.00" width="3" height="5.00" fill="#000"/><rect x="577.64" y="410.00" width="3" height="8.00" fill="#000"/><rect x="626.00" y="410.00" width="3" height="5.00" fill="#000"/><text x="95.50" y="441.20" font-size="26" text-anchor="middle" >200</text><text x="192.23" y="441.20" font-size="26" text-anchor="middle" >300</text><text x="288.95" y="441.20" font-size="26" text-anchor="middle" >400</text><text x="385.68" y="441.20" font-size="26" text-anchor="middle" >500</text><text x="482.41" y="441.20" font-size="26" text-anchor="middle" >600</text><text x="579.14" y="441.20" font-size="26" text-anchor="middle" >700</text><text x="374.50" y="467.50" font-size="32" text-anchor="middle" >Wavelenght (nm)</text><text transform="translate(78.5,224.5) rotate(-90)" font-size="32" text-anchor="middle">Absorbance (a.u.)</text><text x="374.50" y="52.00" font-size="26" text-anchor="middle" >NZ1</text><text x="596.50" y="52.80" font-size="34" text-anchor="middle" >(a)</text><g clip-path="url(#clipB)"><path d="M689.00,309.00C690.97,316.97 692.93,326.96 694.90,332.90C697.00,339.24 699.10,344.07 701.20,348.00C703.57,352.42 705.93,358.80 708.30,358.80C710.10,358.80 711.90,357.37 713.70,356.10C715.50,354.83 717.30,353.14 719.10,349.70C720.57,346.90 722.03,337.20 723.50,330.00C724.43,325.42 725.37,316.91 726.30,315.00C727.13,313.30 727.97,311.80 728.80,311.80C729.70,311.80 730.60,315.85 731.50,319.00C732.70,323.20 733.90,334.60 735.10,338.20C736.77,343.21 738.43,348.30 740.10,348.30C742.50,348.30 744.90,338.73 747.30,331.90C749.53,325.54 751.77,317.54 754.00,306.70C755.60,298.93 757.20,286.21 758.80,275.20C759.97,267.17 761.13,259.67 762.30,250.00C763.27,241.99 764.23,230.32 765.20,222.00C765.97,215.40 766.73,208.23 767.50,204.00C768.13,200.51 768.77,195.80 769.40,195.80C770.03,195.80 770.67,200.51 771.30,204.00C772.07,208.23 772.83,213.91 773.60,222.00C774.20,228.33 774.80,241.60 775.40,250.00C776.23,261.67 777.07,271.40 777.90,281.50C779.17,296.85 780.43,312.00 781.70,325.60C782.53,334.55 783.37,346.98 784.20,350.80C785.13,355.08 786.07,357.60 787.00,359.00C788.00,360.50 789.00,361.24 790.00,362.00C791.63,363.24 793.27,363.77 794.90,364.90C797.23,366.52 799.57,368.29 801.90,370.90C803.23,372.39 804.57,374.51 805.90,376.90C807.23,379.29 808.57,383.23 809.90,385.80C811.90,389.65 813.90,393.03 815.90,395.80C817.87,398.52 819.83,401.94 821.80,402.80C827.87,405.45 833.93,406.26 840.00,407.00C848.33,408.02 856.67,409.00 865.00,409.00C876.67,409.00 888.33,408.58 900.00,408.00C912.33,407.39 924.67,402.36 937.00,401.00C949.43,399.63 961.87,400.12 974.30,398.10C978.30,397.45 982.30,392.99 986.30,389.70C990.30,386.41 994.30,382.01 998.30,377.70C1002.93,372.71 1007.57,369.01 1012.20,361.40C1015.23,356.42 1018.27,347.16 1021.30,338.50C1024.37,329.74 1027.43,320.63 1030.50,308.10C1032.33,300.61 1034.17,290.52 1036.00,280.00C1037.13,273.50 1038.27,264.65 1039.40,258.20C1041.50,246.25 1043.60,236.04 1045.70,226.70C1047.27,219.73 1048.83,210.86 1050.40,207.70C1051.93,204.61 1053.47,202.57 1055.00,201.50C1056.10,200.74 1057.20,200.56 1058.30,199.90C1059.87,198.96 1061.43,197.53 1063.00,196.00C1064.57,194.47 1066.13,193.02 1067.70,190.40C1069.80,186.89 1071.90,180.29 1074.00,171.50C1075.60,164.80 1077.20,151.62 1078.80,140.00C1080.57,127.16 1082.33,109.54 1084.10,96.70C1085.70,85.08 1087.30,75.83 1088.90,65.20C1090.47,54.79 1092.03,40.37 1093.60,33.60C1094.57,29.42 1095.53,25.74 1096.50,24.00C1097.53,22.14 1098.57,20.20 1099.60,20.20C1100.57,20.20 1101.53,21.97 1102.50,24.00C1103.20,25.47 1103.90,29.33 1104.60,33.60C1105.67,40.10 1106.73,50.22 1107.80,65.20C1108.30,72.22 1108.80,86.54 1109.30,96.70C1109.83,107.54 1110.37,117.97 1110.90,128.20C1111.43,138.43 1111.97,148.55 1112.50,158.10C1113.07,168.25 1113.63,176.95 1114.20,187.30C1115.00,201.91 1115.80,219.74 1116.60,234.50C1117.63,253.57 1118.67,276.22 1119.70,288.10C1121.43,308.03 1123.17,317.29 1124.90,330.90C1126.93,346.87 1128.97,367.96 1131.00,376.60C1134.03,389.49 1137.07,399.74 1140.10,402.50C1143.40,405.50 1146.70,407.51 1150.00,407.80C1160.00,408.67 1170.00,408.82 1180.00,409.00C1194.67,409.27 1209.33,409.33 1224.00,409.50" fill="none" stroke="#300080" stroke-width="3.6" stroke-linejoin="round" shape-rendering="crispEdges"/><path d="M689.00,228.00C689.67,232.53 690.33,236.22 691.00,241.60C691.87,248.60 692.73,260.94 693.60,268.00C694.87,278.32 696.13,286.87 697.40,293.30C698.63,299.56 699.87,304.63 701.10,308.50C703.20,315.08 705.30,318.91 707.40,323.90C709.20,328.18 711.00,332.39 712.80,336.40C715.17,341.67 717.53,351.60 719.90,351.60C721.10,351.60 722.30,348.67 723.50,346.00C724.33,344.15 725.17,338.21 726.00,337.00C726.93,335.65 727.87,334.50 728.80,334.50C729.70,334.50 730.60,336.65 731.50,338.00C733.53,341.06 735.57,349.60 737.60,349.60C739.73,349.60 741.87,346.05 744.00,343.60C746.83,340.35 749.67,336.58 752.50,330.70C754.23,327.10 755.97,320.93 757.70,315.00C759.47,308.96 761.23,303.44 763.00,294.10C764.00,288.82 765.00,276.31 766.00,272.00C767.03,267.55 768.07,262.60 769.10,262.60C770.40,262.60 771.70,267.24 773.00,272.00C773.80,274.93 774.60,282.26 775.40,287.80C777.10,299.57 778.80,312.08 780.50,325.60C781.73,335.41 782.97,350.74 784.20,357.10C784.87,360.54 785.53,363.00 786.20,364.90C787.47,368.50 788.73,371.03 790.00,373.00C791.63,375.54 793.27,377.54 794.90,378.90C797.57,381.12 800.23,381.66 802.90,383.80C805.23,385.67 807.57,389.31 809.90,391.80C812.57,394.65 815.23,398.15 817.90,399.80C821.93,402.29 825.97,404.19 830.00,405.00C840.00,407.00 850.00,408.50 860.00,408.50C873.33,408.50 886.67,408.50 900.00,408.50C920.00,408.50 940.00,407.08 960.00,405.00C968.77,404.09 977.53,401.46 986.30,398.10C990.30,396.56 994.30,393.97 998.30,390.90C1003.93,386.57 1009.57,379.77 1015.20,372.00C1019.27,366.39 1023.33,359.18 1027.40,350.70C1030.97,343.26 1034.53,333.81 1038.10,323.30C1040.63,315.83 1043.17,305.31 1045.70,297.40C1047.23,292.61 1048.77,286.49 1050.30,284.00C1052.87,279.83 1055.43,278.03 1058.00,275.80C1060.83,273.34 1063.67,272.72 1066.50,269.60C1069.00,266.85 1071.50,260.98 1074.00,253.40C1076.13,246.93 1078.27,232.48 1080.40,221.90C1082.50,211.48 1084.60,200.05 1086.70,190.40C1088.80,180.75 1090.90,169.98 1093.00,163.60C1094.17,160.06 1095.33,156.80 1096.50,155.00C1097.43,153.56 1098.37,151.80 1099.30,151.80C1100.20,151.80 1101.10,153.42 1102.00,155.00C1103.20,157.11 1104.40,162.19 1105.60,168.40C1107.17,176.51 1108.73,193.19 1110.30,210.90C1111.87,228.61 1113.43,266.16 1115.00,281.80C1117.27,304.42 1119.53,314.23 1121.80,330.90C1123.83,345.86 1125.87,367.96 1127.90,376.60C1130.93,389.49 1133.97,400.16 1137.00,402.50C1141.33,405.84 1145.67,407.79 1150.00,408.00C1174.67,409.21 1199.33,409.00 1224.00,409.50" fill="none" stroke="#00008c" stroke-width="3.6" stroke-linejoin="round" shape-rendering="crispEdges"/><path d="M689.00,221.40C689.67,226.93 690.33,231.46 691.00,238.00C691.67,244.54 692.33,255.08 693.00,262.00C694.00,272.38 695.00,282.53 696.00,289.00C697.13,296.33 698.27,301.94 699.40,306.00C700.60,310.30 701.80,313.18 703.00,316.00C704.67,319.91 706.33,322.51 708.00,326.00C709.67,329.49 711.33,332.74 713.00,337.00C714.33,340.40 715.67,345.36 717.00,349.00C718.33,352.64 719.67,357.96 721.00,359.00C723.33,360.82 725.67,360.92 728.00,362.00C730.00,362.92 732.00,363.86 734.00,365.00C736.00,366.14 738.00,369.00 740.00,369.00C742.83,369.00 745.67,366.55 748.50,363.40C750.00,361.73 751.50,355.77 753.00,352.00C754.50,348.23 756.00,345.06 757.50,340.80C759.50,335.12 761.50,328.58 763.50,320.60C764.33,317.28 765.17,310.55 766.00,309.00C767.03,307.08 768.07,305.50 769.10,305.50C770.07,305.50 771.03,307.72 772.00,310.00C773.00,312.36 774.00,319.82 775.00,325.00C776.67,333.63 778.33,343.53 780.00,352.00C781.67,360.47 783.33,372.12 785.00,376.00C787.97,382.91 790.93,387.20 793.90,388.80C796.57,390.24 799.23,390.24 801.90,391.50C803.90,392.45 805.90,394.50 807.90,396.00C810.57,398.00 813.23,400.85 815.90,402.00C820.60,404.02 825.30,405.33 830.00,406.00C841.67,407.66 853.33,409.00 865.00,409.00C893.33,409.00 921.67,408.70 950.00,408.00C966.67,407.59 983.33,400.48 1000.00,393.30C1004.07,391.55 1008.13,388.93 1012.20,385.70C1016.77,382.08 1021.33,376.72 1025.90,370.50C1029.97,364.96 1034.03,357.12 1038.10,349.20C1041.13,343.29 1044.17,334.55 1047.20,329.40C1049.73,325.10 1052.27,320.57 1054.80,318.70C1057.87,316.44 1060.93,316.46 1064.00,314.20C1066.53,312.33 1069.07,308.30 1071.60,303.50C1073.47,299.97 1075.33,293.84 1077.20,288.10C1079.30,281.64 1081.40,272.79 1083.50,266.00C1085.60,259.21 1087.70,252.98 1089.80,247.10C1091.20,243.18 1092.60,237.99 1094.00,236.00C1095.60,233.73 1097.20,231.40 1098.80,231.40C1099.87,231.40 1100.93,233.92 1102.00,236.00C1103.20,238.34 1104.40,241.97 1105.60,247.10C1107.17,253.79 1108.73,270.09 1110.30,281.80C1112.20,296.01 1114.10,311.44 1116.00,325.00C1118.33,341.65 1120.67,360.30 1123.00,372.00C1125.33,383.70 1127.67,396.22 1130.00,400.00C1132.67,404.32 1135.33,407.77 1138.00,408.00C1142.00,408.34 1146.00,408.41 1150.00,408.50C1174.67,409.07 1199.33,409.17 1224.00,409.50" fill="none" stroke="#0000e6" stroke-width="3.6" stroke-linejoin="round" shape-rendering="crispEdges"/><path d="M689.00,250.00C690.10,264.00 691.20,285.07 692.30,292.00C694.00,302.71 695.70,307.40 697.40,312.30C699.07,317.10 700.73,320.19 702.40,323.60C704.37,327.63 706.33,330.43 708.30,334.60C710.70,339.69 713.10,347.74 715.50,352.50C717.27,356.01 719.03,360.04 720.80,361.40C722.53,362.73 724.27,363.19 726.00,364.00C728.13,365.00 730.27,365.69 732.40,366.80C735.10,368.20 737.80,372.10 740.50,372.10C743.77,372.10 747.03,369.50 750.30,365.90C752.37,363.62 754.43,353.00 756.50,347.00C758.30,341.77 760.10,337.14 761.90,332.00C763.27,328.10 764.63,321.34 766.00,320.00C767.03,318.98 768.07,318.10 769.10,318.10C770.07,318.10 771.03,320.02 772.00,322.00C773.00,324.05 774.00,330.55 775.00,335.00C776.67,342.42 778.33,350.52 780.00,358.00C781.97,366.82 783.93,381.56 785.90,383.80C788.57,386.83 791.23,387.78 793.90,388.80C796.57,389.82 799.23,389.87 801.90,391.00C803.90,391.85 805.90,394.42 807.90,396.00C810.57,398.11 813.23,400.76 815.90,402.00C820.60,404.19 825.30,405.73 830.00,406.50C841.67,408.42 853.33,410.00 865.00,410.00C893.33,410.00 921.67,409.70 950.00,409.00C966.67,408.59 983.33,402.27 1000.00,394.50C1008.00,390.77 1016.00,382.18 1024.00,373.00C1028.67,367.65 1033.33,358.75 1038.00,352.00C1041.57,346.84 1045.13,340.87 1048.70,337.00C1052.77,332.59 1056.83,330.52 1060.90,326.30C1063.93,323.16 1066.97,319.72 1070.00,315.00C1072.00,311.89 1074.00,307.47 1076.00,303.00C1077.97,298.61 1079.93,293.27 1081.90,288.10C1084.00,282.58 1086.10,275.69 1088.20,270.80C1089.97,266.68 1091.73,262.09 1093.50,260.00C1095.17,258.03 1096.83,255.80 1098.50,255.80C1099.67,255.80 1100.83,257.92 1102.00,260.00C1103.00,261.79 1104.00,266.00 1105.00,270.00C1106.00,274.00 1107.00,279.38 1108.00,285.00C1110.00,296.25 1112.00,311.62 1114.00,325.00C1116.33,340.61 1118.67,360.30 1121.00,372.00C1123.33,383.70 1125.67,396.22 1128.00,400.00C1130.67,404.32 1133.33,407.88 1136.00,408.00C1165.33,409.34 1194.67,409.00 1224.00,409.50" fill="none" stroke="#0035b0" stroke-width="3.6" stroke-linejoin="round" shape-rendering="crispEdges"/><path d="M689.00,227.70C689.67,241.13 690.33,261.15 691.00,268.00C692.70,285.46 694.40,293.48 696.10,299.60C697.77,305.60 699.43,310.69 701.10,312.30C703.23,314.36 705.37,314.20 707.50,316.00C708.73,317.04 709.97,318.47 711.20,321.10C712.13,323.09 713.07,329.27 714.00,333.00C715.10,337.39 716.20,341.68 717.30,345.40C718.77,350.36 720.23,357.47 721.70,358.80C723.80,360.71 725.90,360.82 728.00,362.00C730.07,363.16 732.13,364.49 734.20,365.90C736.60,367.54 739.00,371.30 741.40,371.30C744.37,371.30 747.33,367.22 750.30,364.10C753.27,360.98 756.23,357.05 759.20,350.70C760.80,347.27 762.40,340.82 764.00,335.00C764.83,331.97 765.67,326.54 766.50,325.00C767.37,323.40 768.23,321.90 769.10,321.90C770.07,321.90 771.03,323.79 772.00,326.00C772.67,327.52 773.33,332.67 774.00,336.00C775.67,344.33 777.33,354.30 779.00,361.00C781.30,370.25 783.60,381.34 785.90,383.80C788.57,386.65 791.23,387.78 793.90,388.80C796.57,389.82 799.23,389.87 801.90,391.00C803.90,391.85 805.90,394.42 807.90,396.00C810.57,398.11 813.23,400.85 815.90,402.00C820.60,404.02 825.30,405.33 830.00,406.00C841.67,407.66 853.33,409.00 865.00,409.00C893.33,409.00 921.67,408.69 950.00,408.00C966.67,407.60 983.33,402.82 1000.00,396.40C1008.13,393.27 1016.27,385.00 1024.40,376.60C1028.97,371.88 1033.53,364.63 1038.10,358.30C1041.63,353.41 1045.17,346.78 1048.70,343.10C1051.77,339.91 1054.83,337.77 1057.90,335.50C1060.93,333.26 1063.97,332.56 1067.00,329.40C1070.03,326.24 1073.07,315.42 1076.10,308.10C1079.17,300.70 1082.23,291.87 1085.30,285.20C1087.20,281.07 1089.10,275.52 1091.00,274.00C1093.17,272.27 1095.33,270.80 1097.50,270.80C1099.00,270.80 1100.50,272.75 1102.00,275.00C1103.53,277.30 1105.07,285.75 1106.60,292.80C1108.73,302.60 1110.87,317.41 1113.00,330.00C1115.33,343.77 1117.67,360.80 1120.00,372.00C1122.33,383.20 1124.67,396.22 1127.00,400.00C1129.67,404.32 1132.33,407.88 1135.00,408.00C1164.67,409.35 1194.33,409.00 1224.00,409.50" fill="none" stroke="#00b400" stroke-width="3.6" stroke-linejoin="round" shape-rendering="crispEdges"/><path d="M689.40,52.00C689.93,68.80 690.47,89.26 691.00,102.40C692.13,130.33 693.27,151.02 694.40,168.00C695.40,182.98 696.40,197.58 697.40,205.00C699.07,217.36 700.73,221.87 702.40,230.20C704.10,238.70 705.80,247.00 707.50,255.50C709.17,263.83 710.83,271.35 712.50,280.70C714.17,290.05 715.83,298.40 717.50,312.30C718.30,318.97 719.10,332.02 719.90,339.10C720.50,344.41 721.10,351.76 721.70,352.50C723.80,355.08 725.90,355.03 728.00,356.00C730.37,357.10 732.73,357.52 735.10,358.80C737.20,359.94 739.30,364.10 741.40,364.10C744.37,364.10 747.33,362.41 750.30,360.50C752.20,359.28 754.10,355.74 756.00,353.00C757.97,350.17 759.93,348.16 761.90,343.60C763.10,340.82 764.30,332.50 765.50,330.00C766.50,327.91 767.50,325.60 768.50,325.60C769.33,325.60 770.17,327.14 771.00,329.00C771.67,330.49 772.33,336.69 773.00,340.00C774.67,348.28 776.33,356.25 778.00,362.00C780.63,371.09 783.27,381.11 785.90,383.80C788.57,386.52 791.23,387.85 793.90,388.80C796.57,389.75 799.23,389.75 801.90,390.80C803.90,391.59 805.90,394.22 807.90,395.80C810.57,397.91 813.23,400.86 815.90,401.80C820.53,403.43 825.17,404.11 829.80,404.80C841.53,406.55 853.27,408.50 865.00,408.50C893.33,408.50 921.67,407.50 950.00,406.00C966.67,405.12 983.33,402.48 1000.00,397.90C1007.60,395.81 1015.20,390.59 1022.80,384.20C1026.87,380.78 1030.93,374.14 1035.00,369.00C1038.57,364.49 1042.13,359.33 1045.70,355.30C1049.23,351.31 1052.77,347.55 1056.30,344.60C1059.87,341.63 1063.43,340.59 1067.00,337.00C1070.03,333.94 1073.07,327.31 1076.10,321.80C1079.17,316.23 1082.23,309.32 1085.30,303.50C1087.03,300.21 1088.77,295.37 1090.50,294.00C1092.30,292.58 1094.10,291.30 1095.90,291.30C1097.27,291.30 1098.63,293.30 1100.00,295.00C1101.33,296.66 1102.67,299.43 1104.00,303.00C1106.67,310.13 1109.33,326.34 1112.00,340.00C1114.33,351.96 1116.67,370.26 1119.00,380.00C1121.33,389.74 1123.67,400.11 1126.00,403.00C1128.67,406.30 1131.33,408.96 1134.00,409.00C1164.00,409.46 1194.00,409.33 1224.00,409.50" fill="none" stroke="#80e600" stroke-width="3.6" stroke-linejoin="round" shape-rendering="crispEdges"/><path d="M693.30,14.00C694.23,40.67 695.17,80.22 696.10,94.00C698.90,135.35 701.70,143.33 704.50,168.00C705.90,180.33 707.30,191.45 708.70,205.00C710.70,224.35 712.70,250.71 714.70,270.30C716.43,287.28 718.17,297.00 719.90,316.80C720.37,322.13 720.83,333.44 721.30,336.50C722.03,341.31 722.77,344.08 723.50,345.40C725.87,349.65 728.23,350.90 730.60,352.50C733.60,354.53 736.60,357.00 739.60,357.00C742.57,357.00 745.53,354.22 748.50,352.50C751.17,350.95 753.83,349.73 756.50,347.10C758.30,345.33 760.10,341.48 761.90,338.20C762.93,336.32 763.97,332.75 765.00,332.00C765.97,331.30 766.93,330.70 767.90,330.70C768.77,330.70 769.63,332.29 770.50,334.00C771.33,335.65 772.17,341.54 773.00,345.00C775.33,354.68 777.67,365.78 780.00,371.90C781.97,377.06 783.93,381.87 785.90,383.80C788.57,386.41 791.23,387.85 793.90,388.80C796.57,389.75 799.23,389.75 801.90,390.80C803.90,391.59 805.90,394.22 807.90,395.80C810.57,397.91 813.23,400.86 815.90,401.80C820.53,403.43 825.17,404.29 829.80,404.80C846.53,406.64 863.27,408.00 880.00,408.00C899.00,408.00 918.00,406.25 937.00,405.00C958.00,403.62 979.00,403.10 1000.00,399.40C1005.07,398.51 1010.13,394.91 1015.20,391.80C1020.30,388.67 1025.40,384.44 1030.50,379.60C1034.03,376.25 1037.57,371.53 1041.10,367.50C1044.67,363.43 1048.23,358.19 1051.80,355.30C1055.87,352.00 1059.93,351.01 1064.00,347.70C1067.53,344.82 1071.07,340.52 1074.60,335.50C1077.67,331.15 1080.73,323.86 1083.80,318.70C1085.53,315.79 1087.27,311.71 1089.00,310.50C1090.80,309.25 1092.60,308.10 1094.40,308.10C1095.93,308.10 1097.47,309.40 1099.00,310.50C1100.50,311.58 1102.00,313.14 1103.50,315.70C1106.07,320.08 1108.63,334.76 1111.20,346.10C1113.73,357.29 1116.27,374.29 1118.80,384.20C1120.83,392.15 1122.87,401.32 1124.90,404.00C1127.43,407.33 1129.97,410.10 1132.50,410.10C1163.00,410.10 1193.50,409.70 1224.00,409.50" fill="none" stroke="#ffd200" stroke-width="3.6" stroke-linejoin="round" shape-rendering="crispEdges"/><path d="M703.00,14.00C704.60,35.07 706.20,54.55 707.80,77.20C709.77,105.04 711.73,134.45 713.70,168.00C714.37,179.37 715.03,195.04 715.70,205.00C716.73,220.44 717.77,229.77 718.80,242.90C720.07,258.99 721.33,270.88 722.60,293.30C723.03,300.97 723.47,315.81 723.90,323.60C724.37,331.99 724.83,342.90 725.30,344.00C726.87,347.68 728.43,348.36 730.00,349.00C732.53,350.03 735.07,350.80 737.60,350.80C741.80,350.80 746.00,349.13 750.20,348.30C754.40,347.47 758.60,345.80 762.80,345.80C764.07,345.80 765.33,346.42 766.60,347.10C768.57,348.15 770.53,352.16 772.50,356.00C774.17,359.25 775.83,364.63 777.50,369.50C779.00,373.89 780.50,381.38 782.00,383.80C784.63,388.04 787.27,390.55 789.90,391.80C793.23,393.38 796.57,393.55 799.90,394.80C803.23,396.05 806.57,398.55 809.90,399.80C813.23,401.05 816.57,402.18 819.90,402.80C833.27,405.27 846.63,407.50 860.00,407.50C885.67,407.50 911.33,406.11 937.00,405.00C958.00,404.09 979.00,403.60 1000.00,401.00C1007.60,400.06 1015.20,395.50 1022.80,391.80C1027.90,389.32 1033.00,385.63 1038.10,382.70C1042.67,380.08 1047.23,376.90 1051.80,375.10C1056.87,373.11 1061.93,372.72 1067.00,370.50C1071.07,368.72 1075.13,364.82 1079.20,361.40C1081.47,359.49 1083.73,356.09 1086.00,355.00C1088.03,354.02 1090.07,353.00 1092.10,353.00C1094.07,353.00 1096.03,354.30 1098.00,355.50C1099.83,356.62 1101.67,358.74 1103.50,361.40C1106.57,365.84 1109.63,377.39 1112.70,384.20C1115.73,390.93 1118.77,398.49 1121.80,402.50C1124.33,405.85 1126.87,410.10 1129.40,410.10C1160.93,410.10 1192.47,409.70 1224.00,409.50" fill="none" stroke="#ff8000" stroke-width="3.6" stroke-linejoin="round" shape-rendering="crispEdges"/><path d="M696.20,14.00C697.83,37.87 699.47,65.05 701.10,85.60C703.63,117.47 706.17,142.16 708.70,168.00C709.97,180.92 711.23,190.76 712.50,205.00C713.77,219.24 715.03,241.09 716.30,255.50C717.57,269.91 718.83,279.37 720.10,293.30C720.93,302.47 721.77,311.68 722.60,323.60C723.00,329.32 723.40,340.35 723.80,343.60C724.60,350.11 725.40,354.47 726.20,355.50C729.17,359.33 732.13,361.00 735.10,361.00C739.57,361.00 744.03,361.00 748.50,361.00C753.27,361.00 758.03,360.90 762.80,360.90C764.90,360.90 767.00,362.90 769.10,364.70C770.37,365.79 771.63,367.51 772.90,369.80C774.60,372.88 776.30,381.67 778.00,384.80C780.30,389.04 782.60,392.63 784.90,393.80C788.23,395.49 791.57,395.80 794.90,396.80C798.23,397.80 801.57,398.66 804.90,399.80C808.23,400.94 811.57,403.11 814.90,403.80C819.87,404.83 824.83,405.36 829.80,405.80C846.53,407.29 863.27,408.80 880.00,408.80C903.33,408.80 926.67,407.86 950.00,407.00C966.67,406.39 983.33,405.65 1000.00,404.00C1007.60,403.25 1015.20,401.49 1022.80,399.40C1028.90,397.72 1035.00,394.29 1041.10,391.80C1046.17,389.73 1051.23,387.63 1056.30,385.70C1061.90,383.56 1067.50,381.63 1073.10,379.60C1076.40,378.40 1079.70,376.62 1083.00,376.00C1085.27,375.57 1087.53,375.10 1089.80,375.10C1091.53,375.10 1093.27,375.54 1095.00,376.00C1096.33,376.35 1097.67,377.16 1099.00,378.10C1102.53,380.58 1106.07,387.17 1109.60,391.80C1112.67,395.82 1115.73,400.96 1118.80,404.00C1121.33,406.51 1123.87,410.07 1126.40,410.10C1158.93,410.47 1191.47,410.37 1224.00,410.50" fill="none" stroke="#ff2000" stroke-width="3.6" stroke-linejoin="round" shape-rendering="crispEdges"/></g><rect x="686" y="13" width="4" height="400"/><rect x="1219" y="13" width="3" height="400"/><rect x="686" y="13" width="536" height="4"/><rect x="686" y="410" width="536" height="3"/><rect x="686.50" y="410.00" width="3" height="8.00" fill="#000"/><rect x="730.88" y="410.00" width="3" height="5.00" fill="#000"/><rect x="775.25" y="410.00" width="3" height="8.00" fill="#000"/><rect x="819.62" y="410.00" width="3" height="5.00" fill="#000"/><rect x="864.00" y="410.00" width="3" height="8.00" fill="#000"/><rect x="908.38" y="410.00" width="3" height="5.00" fill="#000"/><rect x="952.75" y="410.00" width="3" height="8.00" fill="#000"/><rect x="997.12" y="410.00" width="3" height="5.00" fill="#000"/><rect x="1041.50" y="410.00" width="3" height="8.00" fill="#000"/><rect x="1085.88" y="410.00" width="3" height="5.00" fill="#000"/><rect x="1130.25" y="410.00" width="3" height="8.00" fill="#000"/><rect x="1174.62" y="410.00" width="3" height="5.00" fill="#000"/><rect x="1219.00" y="410.00" width="3" height="8.00" fill="#000"/><text x="688.00" y="441.20" font-size="26" text-anchor="middle" >200</text><text x="776.75" y="441.20" font-size="26" text-anchor="middle" >300</text><text x="865.50" y="441.20" font-size="26" text-anchor="middle" >400</text><text x="954.25" y="441.20" font-size="26" text-anchor="middle" >500</text><text x="1043.00" y="441.20" font-size="26" text-anchor="middle" >600</text><text x="1131.75" y="441.20" font-size="26" text-anchor="middle" >700</text><text x="1220.50" y="441.20" font-size="26" text-anchor="middle" >800</text><text x="955.30" y="467.50" font-size="32" text-anchor="middle" >Wavelenght (nm)</text><text transform="translate(675,204) rotate(-90)" font-size="32" text-anchor="middle">Absorbance (a.u.)</text><text x="941.00" y="50.40" font-size="27" text-anchor="middle" >NZ3</text><text x="1179.30" y="49.00" font-size="34" text-anchor="middle" >(b)</text><g clip-path="url(#clipC)"><rect x="92" y="480" width="115.50" height="399" fill="url(#hatch)"/><path d="M201.20,477.29L218.20,486.89L201.20,496.49Z" fill="#000"/><path d="M234.73,477.67L251.73,487.27L234.73,496.87Z" fill="#000"/><path d="M268.26,480.19L285.26,489.79L268.26,499.39Z" fill="#000"/><path d="M301.79,485.02L318.79,494.62L301.79,504.22Z" fill="#000"/><path d="M352.08,495.45L369.08,505.05L352.08,514.65Z" fill="#000"/><path d="M402.38,505.11L419.38,514.71L402.38,524.31Z" fill="#000"/><path d="M502.97,513.81L519.97,523.41L502.97,533.01Z" fill="#000"/><path d="M603.56,523.01L620.56,532.61L603.56,542.21Z" fill="#000"/><path d="M201.20,621.14L218.20,630.74L201.20,640.34Z" fill="#00ff00"/><path d="M234.73,642.36L251.73,651.96L234.73,661.56Z" fill="#00ff00"/><path d="M268.26,675.21L285.26,684.81L268.26,694.41Z" fill="#00ff00"/><path d="M301.79,691.18L318.79,700.78L301.79,710.38Z" fill="#00ff00"/><path d="M352.08,762.21L369.08,771.81L352.08,781.41Z" fill="#00ff00"/><path d="M402.38,793.71L419.38,803.31L402.38,812.91Z" fill="#00ff00"/><path d="M502.97,838.28L519.97,847.88L502.97,857.48Z" fill="#00ff00"/><path d="M603.56,859.42L620.56,869.02L603.56,878.62Z" fill="#00ff00"/><path d="M100.61,476.90L117.61,486.50L100.61,496.10Z" fill="#ff0000"/><path d="M201.20,606.49L218.20,616.09L201.20,625.69Z" fill="#ff0000"/><path d="M234.73,685.96L251.73,695.56L234.73,705.16Z" fill="#ff0000"/><path d="M268.26,709.34L285.26,718.94L268.26,728.54Z" fill="#ff0000"/><path d="M301.79,725.03L318.79,734.63L301.79,744.23Z" fill="#ff0000"/><path d="M352.08,746.41L369.08,756.01L352.08,765.61Z" fill="#ff0000"/><path d="M402.38,764.61L419.38,774.21L402.38,783.81Z" fill="#ff0000"/><path d="M502.97,809.29L519.97,818.89L502.97,828.49Z" fill="#ff0000"/><path d="M603.56,832.48L620.56,842.08L603.56,851.68Z" fill="#ff0000"/></g><rect x="88" y="477" width="4" height="405"/><rect x="625" y="477" width="3" height="405"/><rect x="88" y="477" width="540" height="3"/><rect x="88" y="879" width="540" height="3"/><rect x="105.41" y="879.00" width="3" height="9.00" fill="#000"/><rect x="155.70" y="879.00" width="3" height="6.00" fill="#000"/><rect x="206.00" y="879.00" width="3" height="9.00" fill="#000"/><rect x="256.30" y="879.00" width="3" height="6.00" fill="#000"/><rect x="306.59" y="879.00" width="3" height="9.00" fill="#000"/><rect x="356.88" y="879.00" width="3" height="6.00" fill="#000"/><rect x="407.18" y="879.00" width="3" height="9.00" fill="#000"/><rect x="457.48" y="879.00" width="3" height="6.00" fill="#000"/><rect x="507.77" y="879.00" width="3" height="9.00" fill="#000"/><rect x="558.07" y="879.00" width="3" height="6.00" fill="#000"/><rect x="608.36" y="879.00" width="3" height="9.00" fill="#000"/><text x="106.91" y="910.60" font-size="26" text-anchor="middle" >-30</text><text x="207.50" y="910.60" font-size="26" text-anchor="middle" >0</text><text x="308.09" y="910.60" font-size="26" text-anchor="middle" >30</text><text x="408.68" y="910.60" font-size="26" text-anchor="middle" >60</text><text x="509.27" y="910.60" font-size="26" text-anchor="middle" >90</text><text x="609.86" y="910.60" font-size="26" text-anchor="middle" >120</text><rect x="83.00" y="871.50" width="8.00" height="3" fill="#000"/><rect x="86.00" y="832.85" width="5.00" height="3" fill="#000"/><rect x="83.00" y="794.20" width="8.00" height="3" fill="#000"/><rect x="86.00" y="755.55" width="5.00" height="3" fill="#000"/><rect x="83.00" y="716.90" width="8.00" height="3" fill="#000"/><rect x="86.00" y="678.25" width="5.00" height="3" fill="#000"/><rect x="83.00" y="639.60" width="8.00" height="3" fill="#000"/><rect x="86.00" y="600.95" width="5.00" height="3" fill="#000"/><rect x="83.00" y="562.30" width="8.00" height="3" fill="#000"/><rect x="86.00" y="523.65" width="5.00" height="3" fill="#000"/><rect x="83.00" y="485.00" width="8.00" height="3" fill="#000"/><text x="79.30" y="881.20" font-size="27" text-anchor="end" >0.0</text><text x="79.30" y="803.90" font-size="27" text-anchor="end" >0.2</text><text x="79.30" y="726.60" font-size="27" text-anchor="end" >0.4</text><text x="79.30" y="649.30" font-size="27" text-anchor="end" >0.6</text><text x="79.30" y="572.00" font-size="27" text-anchor="end" >0.8</text><text x="79.30" y="494.70" font-size="27" text-anchor="end" >1.0</text><text x="374.50" y="934.00" font-size="32" text-anchor="middle" >Time (min)</text><text transform="translate(35.3,660.3) rotate(-90)" font-size="33" text-anchor="middle">C/C<tspan font-size="21">0</tspan></text><text x="592.00" y="687.00" font-size="34" text-anchor="middle" >(c)</text><path d="M225.00,799.90L242.00,809.50L225.00,819.10Z" fill="#000"/><text x="260.00" y="817.00" font-size="23" text-anchor="start" >Photolysis</text><path d="M225.00,827.90L242.00,837.50L225.00,847.10Z" fill="#00ff00"/><text x="260.00" y="845.00" font-size="22" text-anchor="start" >NZ1</text><path d="M225.00,855.90L242.00,865.50L225.00,875.10Z" fill="#ff0000"/><text x="260.00" y="873.00" font-size="22" text-anchor="start" >NZ3</text><g clip-path="url(#clipD)"><path d="M795.40,563.92L812.40,573.52L795.40,583.12Z" fill="#0000ff"/><path d="M829.80,567.57L846.80,577.17L829.80,586.77Z" fill="#0000ff"/><path d="M864.20,580.80L881.20,590.40L864.20,600.00Z" fill="#0000ff"/><path d="M898.60,586.60L915.60,596.20L898.60,605.80Z" fill="#0000ff"/><path d="M1001.80,648.09L1018.80,657.69L1001.80,667.29Z" fill="#0000ff"/><path d="M1105.00,715.93L1122.00,725.53L1105.00,735.13Z" fill="#0000ff"/><path d="M1208.20,842.90L1225.20,852.50L1208.20,862.10Z" fill="#0000ff"/><path d="M692.20,532.40L709.20,542.00L692.20,551.60Z" fill="#ff0000"/><path d="M795.40,561.22L812.40,570.82L795.40,580.42Z" fill="#ff0000"/><path d="M829.80,584.98L846.80,594.58L829.80,604.18Z" fill="#ff0000"/><path d="M864.20,594.77L881.20,604.37L864.20,613.97Z" fill="#ff0000"/><path d="M898.60,601.72L915.60,611.32L898.60,620.92Z" fill="#ff0000"/><path d="M950.20,612.93L967.20,622.53L950.20,632.13Z" fill="#ff0000"/><path d="M1001.80,624.47L1018.80,634.07L1001.80,643.67Z" fill="#ff0000"/><path d="M1105.00,664.83L1122.00,674.43L1105.00,684.03Z" fill="#ff0000"/><path d="M1208.20,701.69L1225.20,711.29L1208.20,720.89Z" fill="#ff0000"/><path d="M950.20,622.58L967.20,632.18L950.20,641.78Z" fill="#0000ff"/><line x1="698.50" y1="542.00" x2="1214.50" y2="709.26" stroke="#ff0000" stroke-width="3.2"/><line x1="697.1" y1="502.5" x2="1215.5" y2="801.5" stroke="#0000ff" stroke-width="3.2"/></g><rect x="686" y="473" width="4" height="408"/><rect x="1223" y="473" width="3" height="408"/><rect x="686" y="473" width="540" height="3"/><rect x="686" y="878" width="540" height="3"/><rect x="697.00" y="878.00" width="3" height="8.00" fill="#000"/><rect x="748.60" y="878.00" width="3" height="5.00" fill="#000"/><rect x="800.20" y="878.00" width="3" height="8.00" fill="#000"/><rect x="851.80" y="878.00" width="3" height="5.00" fill="#000"/><rect x="903.40" y="878.00" width="3" height="8.00" fill="#000"/><rect x="955.00" y="878.00" width="3" height="5.00" fill="#000"/><rect x="1006.60" y="878.00" width="3" height="8.00" fill="#000"/><rect x="1058.20" y="878.00" width="3" height="5.00" fill="#000"/><rect x="1109.80" y="878.00" width="3" height="8.00" fill="#000"/><rect x="1161.40" y="878.00" width="3" height="5.00" fill="#000"/><rect x="1213.00" y="878.00" width="3" height="8.00" fill="#000"/><text x="698.50" y="910.60" font-size="26" text-anchor="middle" >-30</text><text x="801.70" y="910.60" font-size="26" text-anchor="middle" >0</text><text x="904.90" y="910.60" font-size="26" text-anchor="middle" >30</text><text x="1008.10" y="910.60" font-size="26" text-anchor="middle" >60</text><text x="1111.30" y="910.60" font-size="26" text-anchor="middle" >90</text><text x="1214.50" y="910.60" font-size="26" text-anchor="middle" >120</text><rect x="681.00" y="473.00" width="8.00" height="3" fill="#000"/><rect x="684.00" y="506.75" width="5.00" height="3" fill="#000"/><rect x="681.00" y="540.50" width="8.00" height="3" fill="#000"/><rect x="684.00" y="574.25" width="5.00" height="3" fill="#000"/><rect x="681.00" y="608.00" width="8.00" height="3" fill="#000"/><rect x="684.00" y="641.75" width="5.00" height="3" fill="#000"/><rect x="681.00" y="675.50" width="8.00" height="3" fill="#000"/><rect x="684.00" y="709.25" width="5.00" height="3" fill="#000"/><rect x="681.00" y="743.00" width="8.00" height="3" fill="#000"/><rect x="684.00" y="776.75" width="5.00" height="3" fill="#000"/><rect x="681.00" y="810.50" width="8.00" height="3" fill="#000"/><rect x="684.00" y="844.25" width="5.00" height="3" fill="#000"/><rect x="681.00" y="878.00" width="8.00" height="3" fill="#000"/><text x="676.70" y="482.50" font-size="26" text-anchor="end" >1</text><text x="676.70" y="550.00" font-size="26" text-anchor="end" >0</text><text x="676.70" y="617.50" font-size="26" text-anchor="end" >-1</text><text x="676.70" y="685.00" font-size="26" text-anchor="end" >-2</text><text x="676.70" y="752.50" font-size="26" text-anchor="end" >-3</text><text x="676.70" y="820.00" font-size="26" text-anchor="end" >-4</text><text x="676.70" y="887.50" font-size="26" text-anchor="end" >-5</text><text x="964.30" y="935.00" font-size="32" text-anchor="middle" >Time (min)</text><text transform="translate(652.8,670) rotate(-90)" font-size="28" text-anchor="middle">ln C/C<tspan font-size="18">0</tspan></text><text x="1185.50" y="517.80" font-size="34" text-anchor="middle" >(d)</text><path d="M702.00,809.70L719.00,819.30L702.00,828.90Z" fill="#0000ff"/><text x="731.00" y="825.30" font-size="16" text-anchor="start" >NZ1</text><path d="M702.00,829.90L719.00,839.50L702.00,849.10Z" fill="#ff0000"/><text x="731.00" y="845.10" font-size="16" text-anchor="start" >NZ3</text></svg></body></html>
